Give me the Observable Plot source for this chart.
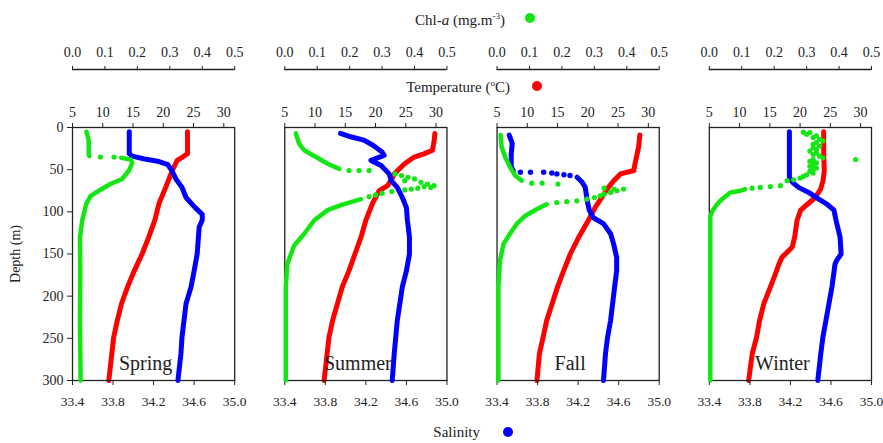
<!DOCTYPE html>
<html><head><meta charset="utf-8">
<script src="https://cdn.jsdelivr.net/npm/d3@7"></script>
<script src="https://cdn.jsdelivr.net/npm/@observablehq/plot@0.6"></script>
<style>
body { margin:0; background:#fff; }
#chart { position: relative; width: 883px; height: 443px; font-family: "Liberation Serif", serif; color: #222; overflow: hidden; }
#chart svg { position: absolute; left: 0; top: 0; background: transparent !important; font-family: "Liberation Serif", serif !important; overflow: visible; }
#chart svg text { font-family: "Liberation Serif", serif !important; }
.leg { position: absolute; font-family: "Liberation Serif", serif; font-size: 15px; line-height: 15px; white-space: nowrap; color: #222; }
.dot { position: absolute; width: 10px; height: 10px; border-radius: 50%; }
sup { font-size: 9px; line-height: 0; vertical-align: 6px; }
</style></head>
<body><div id="chart"></div>
<script>
const seasons = ["Spring", "Summer", "Fall", "Winter"];
const chlTicks = [0, 0.1, 0.2, 0.3, 0.4, 0.5];
const tempTicks = [5, 10, 15, 20, 25, 30];
const salTicks = [33.4, 33.8, 34.2, 34.6, 35.0];
const depthTicks = [0, 50, 100, 150, 200, 250, 300];

// [depth (m), value]; null = gap in the profile line
const springTemp = [[5,24.0],[31,24.0],[35,23.2],[39,22.3],[51,21.5],[71,20.4],[90,19.3],[110,18.6],[130,17.6],[150,16.5],[170,15.2],[189,14.1],[209,13.1],[229,12.4],[249,11.8],[268,11.5],[300,11.0]];
const springSal = [[5,33.96],[31,33.96],[34,33.99],[37,34.10],[40,34.24],[44,34.34],[51,34.38],[61,34.42],[71,34.48],[83,34.52],[95,34.61],[103,34.68],[110,34.68],[118,34.65],[150,34.63],[170,34.60],[189,34.57],[209,34.52],[229,34.50],[249,34.48],[268,34.47],[300,34.44]];
const springChl = [[5,0.043],[15,0.050],[31,0.050],[34,0.052],null,[36,0.15],[38,0.18],[42,0.184],[51,0.174],[61,0.153],[67,0.117],[75,0.081],[81,0.056],[90,0.043],[110,0.030],[130,0.023],[170,0.024],[230,0.023],[300,0.025]];
const springChlDots = [[35,0.086],[35,0.128]];

const summerTemp = [[7,29.8],[15,29.7],[27,29.4],[31,28.1],[35,26.4],[43,24.8],[55,23.1],[61,22.7],[69,22.0],[75,20.6],[90,19.5],[110,18.4],[130,17.6],[150,16.6],[170,15.6],[189,14.5],[209,13.7],[229,12.9],[249,12.3],[268,12.0],[300,11.5]];
const summerSal = [[7,33.95],[11,34.05],[15,34.18],[21,34.27],[29,34.36],[33,34.38],[39,34.25],[45,34.35],[55,34.43],[63,34.45],[71,34.51],[83,34.56],[95,34.60],[110,34.61],[130,34.63],[150,34.63],[170,34.60],[189,34.56],[229,34.51],[268,34.48],[300,34.46]];
const summerChl = [[7,0.034],[19,0.044],[27,0.060],[35,0.096],[43,0.132],[49,0.168],null,[85,0.235],[92,0.173],[98,0.132],[110,0.091],[126,0.060],[140,0.029],[150,0.019],[162,0.008],[189,0.003],[300,0.003]];
const summerChlDots = [[51,0.198],[51,0.229],[51,0.260],[55,0.34],[57,0.36],[59,0.38],[61,0.40],[63,0.37],[65,0.42],[67,0.44],[69,0.46],[70,0.43],[71,0.45],[72,0.41],[73,0.39],[74,0.37],[76,0.33],[78,0.30],[80,0.28],[82,0.26]];

const fallTemp = [[9,28.6],[23,28.4],[43,27.8],[51,27.6],[55,25.4],[63,24.3],[71,23.4],[83,22.3],[95,21.2],[110,20.1],[130,18.5],[150,17.1],[170,16.0],[189,15.0],[209,14.1],[229,13.2],[249,12.6],[268,12.0],[300,11.6]];
const fallSal = [[9,33.52],[19,33.55],[31,33.54],[47,33.54],[51,33.56],null,[59,34.19],[65,34.24],[71,34.27],[87,34.29],[98,34.31],[107,34.35],[114,34.45],[126,34.52],[138,34.55],[154,34.58],[170,34.58],[189,34.56],[209,34.54],[229,34.52],[249,34.49],[268,34.47],[300,34.45]];
const fallSalDots = [[53,33.63],[53,33.73],[53,33.86],[54,33.94],[55,33.99],[56,34.06],[57,34.12]];
const fallChl = [[9,0.011],[23,0.014],[35,0.025],[47,0.040],[57,0.056],[63,0.076],null,[91,0.153],[97,0.122],[105,0.086],[114,0.061],[126,0.040],[138,0.020],[158,0.009],[189,0.004],[300,0.004]];
const fallChlDots = [[66,0.107],[66,0.139],[67,0.188],[72,0.33],[73,0.36],[73,0.39],[75,0.37],[77,0.35],[79,0.33],[81,0.318],[83,0.30],[85,0.277],[87,0.246],[88,0.215],[89,0.184]];

const winterTemp = [[5,23.9],[31,23.9],[51,24.0],[63,23.8],[73,23.4],[83,22.5],[91,21.2],[98,20.1],[110,19.5],[130,19.1],[142,18.7],[154,17.0],[162,16.5],[174,15.9],[189,15.1],[209,14.0],[229,13.3],[249,12.8],[268,12.1],[300,11.5]];
const winterSal = [[5,34.19],[59,34.19],[65,34.22],[71,34.28],[77,34.38],[85,34.48],[91,34.56],[98,34.63],[110,34.65],[130,34.69],[150,34.70],[157,34.66],[162,34.64],[189,34.61],[209,34.58],[229,34.55],[249,34.52],[268,34.50],[300,34.47]];
const winterChl = [[73,0.11],[75,0.096],[77,0.065],[85,0.039],[91,0.024],[100,0.008],[106,0.003],[300,0.003]];
const winterChlDots = [[5.5,0.29],[6,0.31],[8,0.30],[10,0.33],[12,0.32],[14,0.34],[16,0.35],[18,0.33],[20,0.32],[22,0.34],[24,0.32],[26,0.33],[28,0.31],[30,0.33],[32,0.32],[34,0.34],[36,0.35],[38,0.32],[40,0.31],[42,0.33],[44,0.32],[46,0.31],[48,0.33],[50,0.32],[52,0.31],[54,0.32],[56,0.30],[58,0.29],[60,0.28],[62,0.26],[63,0.24],[38,0.451],[69,0.219],[70,0.188],[71,0.157],[72,0.132]];

const RED = "#ff0000", BLUE = "#0000ff", GREEN = "#14e614", INK = "#222";
const FONT = "'Liberation Serif', serif";

function rows(season, arr) {
  return arr.map(p => p ? {season, depth: p[0], value: p[1]} : {season, depth: NaN, value: NaN});
}
const tempRows = [...rows("Spring", springTemp), ...rows("Summer", summerTemp), ...rows("Fall", fallTemp), ...rows("Winter", winterTemp)];
const salRows = [...rows("Spring", springSal), ...rows("Summer", summerSal), ...rows("Fall", fallSal), ...rows("Winter", winterSal)];
const salDotRows = [...rows("Fall", fallSalDots)];
const chlRows = [...rows("Spring", springChl), ...rows("Summer", summerChl), ...rows("Fall", fallChl), ...rows("Winter", winterChl)];
const chlDotRows = [...rows("Spring", springChlDots), ...rows("Summer", summerChlDots), ...rows("Fall", fallChlDots), ...rows("Winter", winterChlDots)];

const fx = {domain: seasons, paddingInner: 0.236, paddingOuter: 0, axis: null, round: false};
const style = {fontFamily: FONT, background: "transparent", color: INK};
const base = {width: 883, height: 443, marginLeft: 72, marginRight: 12, marginTop: 127, marginBottom: 63, fx, style};
const yDepth = {domain: [0, 300], reverse: true, axis: null};
const lineOpts = {fx: "season", z: "season", x: "value", y: "depth", strokeWidth: 5, strokeLinecap: "round", strokeLinejoin: "round"};
const chart = document.getElementById("chart");

// temperature (bottom layer)
chart.append(Plot.plot({
  ...base,
  x: {domain: [5, 31.8]},
  y: yDepth,
  marks: [
    Plot.axisX(tempTicks, {anchor: "top", tickSize: 5, tickPadding: 6, fontSize: 14, fontFamily: FONT, label: null, stroke: INK}),
    Plot.line(tempRows, {...lineOpts, stroke: RED})
  ]
}));

// salinity + frame + depth axis
chart.append(Plot.plot({
  ...base,
  x: {domain: [33.4, 35.0]},
  y: yDepth,
  marks: [
    Plot.frame({stroke: INK, strokeWidth: 1.3}),
    Plot.axisX(salTicks, {anchor: "bottom", tickSize: 5, tickPadding: 11, tickFormat: ".1f", fontSize: 13.5, fontFamily: FONT, label: null, stroke: INK}),
    Plot.axisY(depthTicks, {anchor: "left", tickSize: 5, tickPadding: 4, fontSize: 14, fontFamily: FONT, label: "Depth (m)", labelAnchor: "center", labelOffset: 62, labelArrow: false, stroke: INK}),
    Plot.line(salRows, {...lineOpts, stroke: BLUE}),
    Plot.dot(salDotRows, {fx: "season", x: "value", y: "depth", r: 2.7, fill: BLUE}),
    Plot.text(seasons, {fx: d => d, text: d => d, frameAnchor: "bottom", dx: -8, dy: -17, lineAnchor: "middle", fontSize: 20, fontFamily: FONT, fill: INK})
  ]
}));

// chlorophyll data (top layer)
chart.append(Plot.plot({
  ...base,
  x: {domain: [0, 0.5], axis: null},
  y: yDepth,
  marks: [
    Plot.line(chlRows, {...lineOpts, stroke: GREEN, strokeWidth: 4.5}),
    Plot.dot(chlDotRows, {fx: "season", x: "value", y: "depth", r: 2.6, fill: GREEN})
  ]
}));

// chlorophyll axis (separate line above)
chart.append(Plot.plot({
  width: 883, height: 443, marginLeft: 72, marginRight: 12, marginTop: 69, marginBottom: 373, fx, style,
  x: {domain: [0, 0.5]},
  y: {domain: [0, 1], axis: null},
  marks: [
    Plot.axisX(chlTicks, {anchor: "top", tickSize: 4, tickPadding: 9, tickFormat: ".1f", fontSize: 14, fontFamily: FONT, label: null, stroke: INK}),
    Plot.ruleY(seasons, {fx: d => d, y: () => 1, stroke: INK, strokeWidth: 1.3})
  ]
}));

// legends
function legend(html, right, top, color, dx, dy) {
  const t = document.createElement("div");
  t.className = "leg";
  t.innerHTML = html;
  t.style.right = (883 - right) + "px";
  t.style.top = top + "px";
  chart.append(t);
  const d = document.createElement("div");
  d.className = "dot";
  d.style.background = color;
  d.style.left = (dx - 5) + "px";
  d.style.top = (dy - 5) + "px";
  chart.append(d);
}
legend("Chl-<i>a</i> (mg.m<sup>-3</sup>)", 505, 13, GREEN, 530, 18);
legend("Temperature (<sup>o</sup>C)", 510, 80, RED, 537, 86);
legend("Salinity", 480, 425, BLUE, 508, 432);
</script></body></html>
